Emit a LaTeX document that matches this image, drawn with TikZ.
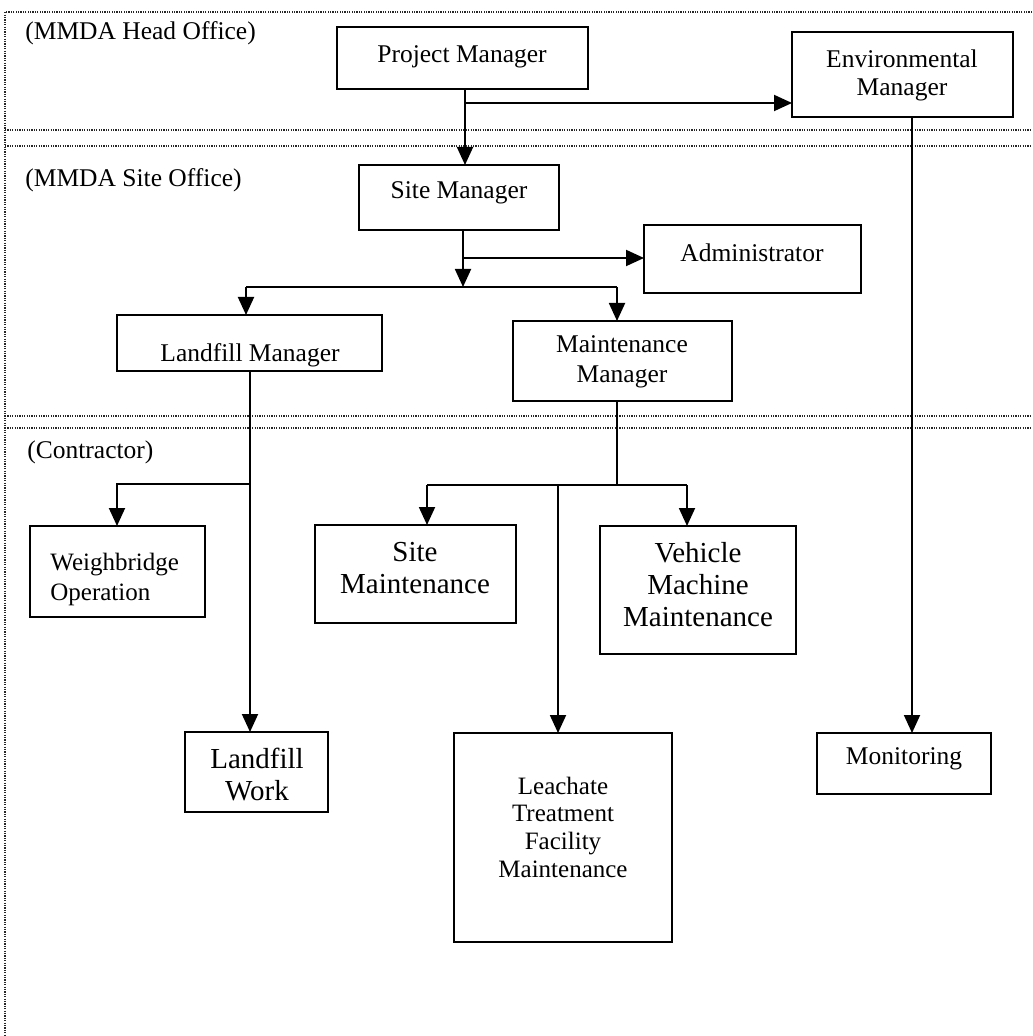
\documentclass[tikz,border=0pt]{standalone}
\usepackage{fontspec}
\setmainfont{Liberation Serif}
\usetikzlibrary{arrows.meta}
\begin{document}
\begin{tikzpicture}[x=0.5pt,y=-0.5pt,
  box/.style={draw, line width=0.75pt, inner sep=0pt, outer sep=0pt},
  txt/.style={align=center, inner sep=0pt, font=\fontsize{12.75}{14.5}\selectfont},
  bigtxt/.style={align=center, inner sep=0pt, font=\fontsize{14.5}{15.8}\selectfont},
  hdr/.style={anchor=west, inner sep=0pt, font=\fontsize{12.75}{14.5}\selectfont},
  conn/.style={line width=0.95pt},
  arr/.style={line width=0.95pt, -{Triangle[length=9pt,width=8pt]}},
  frame/.style={line width=0.6pt, black!85, dash pattern=on 0.6pt off 0.6pt}
]
\useasboundingbox (0,0) rectangle (1032,1036);

% dotted frame and separators
\draw[frame] (1032,12) -- (5,12) -- (5,1036);
\draw[frame] (5,130) -- (1032,130);
\draw[frame] (5,146) -- (1032,146);
\draw[frame] (5,416) -- (1032,416);
\draw[frame] (5,428) -- (1032,428);

% section headers
\node[hdr] (h1) at (25,33) {(MMDA Head Office)};
\node[hdr] (h2) at (25,180) {(MMDA Site Office)};
\node[hdr] (h3) at (27,452) {(Contractor)};

% boxes
\node[box, minimum width=125.5pt, minimum height=31pt]   (pm)    at (462.5,58) {};
\node[box, minimum width=110.5pt, minimum height=42.5pt] (env)   at (902.5,74.5) {};
\node[box, minimum width=100pt,   minimum height=32.5pt] (site)  at (459,197.5) {};
\node[box, minimum width=108.5pt, minimum height=34pt]   (admin) at (752.5,259) {};
\node[box, minimum width=132.5pt, minimum height=28pt]   (lfm)   at (249.5,343) {};
\node[box, minimum width=109.5pt, minimum height=40pt]   (mm)    at (622.5,361) {};
\node[box, minimum width=87.5pt,  minimum height=45.5pt] (wb)    at (117.5,571.5) {};
\node[box, minimum width=100.5pt, minimum height=49pt]   (sm)    at (415.5,574) {};
\node[box, minimum width=98pt,    minimum height=64pt]   (vm)    at (698,590) {};
\node[box, minimum width=71.5pt,  minimum height=40pt]   (lw)    at (256.5,772) {};
\node[box, minimum width=109pt,   minimum height=104.5pt] (lt)   at (563,837.5) {};
\node[box, minimum width=87pt,    minimum height=30.5pt] (mon)   at (904,763.5) {};

% texts
\node[txt] (tpm)   at (462,57) {Project Manager};
\node[txt, font=\fontsize{12.75}{14}\selectfont] (tenv) at (902,75) {Environmental\\Manager};
\node[txt] (tsite) at (459,193) {Site Manager};
\node[txt] (tadm)  at (752,253) {Administrator};
\node[txt] (tlfm)  at (250,355) {Landfill Manager};
\node[txt, font=\fontsize{12.75}{15}\selectfont] (tmm) at (622,362) {Maintenance\\Manager};
\node[txt, anchor=west, align=left, font=\fontsize{12.5}{15}\selectfont] (twb) at (50,579) {Weighbridge\\Operation};
\node[bigtxt] (tsm) at (415,568) {Site\\Maintenance};
\node[bigtxt, font=\fontsize{14.5}{16}\selectfont] (tvm) at (698,585) {Vehicle\\Machine\\Maintenance};
\node[bigtxt, font=\fontsize{14.5}{16}\selectfont] (tlw) at (257,775) {Landfill\\Work};
\node[txt, font=\fontsize{12.5}{13.85}\selectfont] (tlt) at (563,827) {Leachate\\Treatment\\Facility\\Maintenance};
\node[txt] (tmon) at (904,759) {Monitoring};

% junction coordinates
\coordinate (j1) at (465,103);
\coordinate (je) at (912,0);
\coordinate (j2) at (463,287);
\coordinate (j3) at (463,258);
\coordinate (bl) at (246,287);
\coordinate (br) at (617,287);
\coordinate (j4) at (250,484);
\coordinate (wbk) at (117,484);
\coordinate (j5) at (617,485);
\coordinate (smk) at (427,485);
\coordinate (vmk) at (687,485);
\coordinate (ltk) at (558,485);

% connectors
\draw[arr] (pm.south -| j1) -- (site.north -| j1);
\draw[arr] (j1) -- (env.west |- j1);
\draw[arr] (env.south -| je) -- (mon.north -| je);

\draw[arr] (site.south -| j2) -- (j2);
\draw[arr] (j3) -- (admin.west |- j3);
\draw[conn] (bl) -- (br);
\draw[arr] (bl) -- (lfm.north -| bl);
\draw[arr] (br) -- (mm.north -| br);

\draw[arr] (lfm.south -| j4) -- (lw.north -| j4);
\draw[arr] (j4) -- (wbk) -- (wb.north -| wbk);

\draw[conn] (mm.south -| j5) -- (j5);
\draw[conn] (smk) -- (vmk);
\draw[arr] (smk) -- (sm.north -| smk);
\draw[arr] (vmk) -- (vm.north -| vmk);
\draw[arr] (ltk) -- (lt.north -| ltk);
\end{tikzpicture}
\end{document}
